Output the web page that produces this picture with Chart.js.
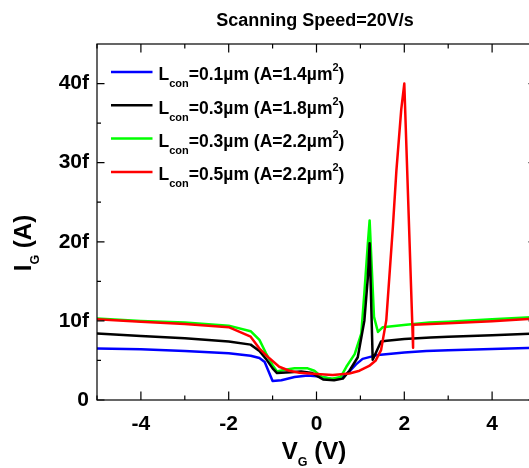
<!DOCTYPE html>
<html>
<head>
<meta charset="utf-8" />
<title>I_G vs V_G</title>
<script src="https://cdn.jsdelivr.net/npm/chart.js@4.4.0/dist/chart.umd.min.js"></script>
<style>
body {
	margin: 0;
	overflow: hidden;
	background: #fff;
}
canvas {
	display: block;
}
</style>
</head>
<body>
<canvas id="chart" width="545" height="468"></canvas>

<script>
// gate voltage (V) / gate current (fA)
const blueV = [-5, -4, -3, -2, -1.5, -1.3, -1.18, -1.0, -0.8, -0.5, -0.2, 0, 0.2, 0.4, 0.6, 0.75, 0.9, 1.05, 1.4, 2, 2.5, 3, 4, 5];
const blueI = [6.5, 6.4, 6.2, 5.9, 5.6, 5.3, 4.8, 2.4, 2.5, 2.9, 3.1, 3.0, 2.8, 2.6, 2.9, 3.6, 4.5, 5.2, 5.7, 6.0, 6.2, 6.3, 6.45, 6.6];

const blackV = [-5, -4, -3, -2, -1.5, -1.3, -1.15, -1.0, -0.9, -0.6, -0.35, -0.1, 0.15, 0.4, 0.6, 0.75, 0.94, 1.09, 1.17, 1.21, 1.28, 1.47, 1.6, 2, 2.6, 3, 4, 5];
const blackI = [8.4, 8.1, 7.8, 7.4, 7.0, 6.2, 5.2, 4.0, 3.4, 3.5, 3.6, 3.4, 2.6, 2.5, 2.7, 3.7, 5.4, 10.0, 15.5, 19.8, 5.1, 7.4, 7.5, 7.7, 7.9, 8.0, 8.2, 8.4];

const greenV = [-5, -4, -3, -2, -1.5, -1.3, -1.15, -1.0, -0.9, -0.75, -0.5, -0.2, -0.05, 0.12, 0.35, 0.55, 0.68, 0.87, 1.02, 1.09, 1.17, 1.21, 1.31, 1.4, 1.51, 2.04, 2.57, 3, 4, 5];
const greenI = [10.3, 10.0, 9.8, 9.4, 8.7, 7.6, 5.9, 4.4, 3.6, 3.8, 4.0, 4.0, 3.7, 2.9, 2.7, 2.9, 4.2, 5.8, 8.4, 13.5, 19.8, 22.7, 10.5, 8.6, 9.2, 9.5, 9.8, 9.9, 10.2, 10.5];

const redV = [-5, -4, -3, -2, -1.5, -1.3, -1.08, -0.85, -0.62, -0.39, 0, 0.37, 0.75, 0.98, 1.2, 1.35, 1.47, 1.59, 1.66, 1.74, 1.82, 1.93, 2.0, 2.2, 2.2, 2.6, 3, 4, 5];
const redI = [10.2, 9.9, 9.6, 9.2, 8.0, 6.5, 5.3, 4.2, 3.7, 3.45, 3.3, 3.15, 3.35, 3.7, 4.3, 5.0, 6.3, 10.1, 15.6, 21.9, 29.0, 36.7, 40.0, 6.6, 9.5, 9.6, 9.7, 9.95, 10.3];

const lcon = ['0.1', '0.3', '0.3', '0.5'];
const area = ['1.4', '1.8', '2.2', '2.2'];
const colors = ['#0000ff', '#000000', '#00ff00', '#ff0000'];

const xTicks = [-4, -2, 0, 2, 4];
const xMinor = [-5, -3, -1, 1, 3, 5];
const yTicks = [0, 10, 20, 30, 40];
const yTickLabels = ['0', '10f', '20f', '30f', '40f'];
const yMinor = [5, 15, 25, 35];

const FONT = 'Liberation Sans, Arial, sans-serif';

const pts = (xs, ys) => xs.map((x, i) => ({x: x, y: ys[i]}));

// draw text made of pieces with their own size and baseline shift
function richWidth(ctx, parts) {
	let w = 0;
	for (const p of parts) {
		ctx.font = `bold ${p.size}px ${FONT}`;
		w += ctx.measureText(p.t).width;
	}
	return w;
}
function drawRich(ctx, x, y, parts) {
	for (const p of parts) {
		ctx.font = `bold ${p.size}px ${FONT}`;
		ctx.fillText(p.t, x, y + (p.dy || 0));
		x += ctx.measureText(p.t).width;
	}
}

const framePlugin = {
	id: 'frame',
	afterDatasetsDraw(chart) {
		const {ctx, chartArea: a, scales: {x, y}} = chart;
		ctx.save();
		ctx.strokeStyle = '#000';
		ctx.lineWidth = 1.2;
		ctx.strokeRect(a.left, a.top, a.right - a.left, a.bottom - a.top);
		ctx.beginPath();
		const tick = (vals, len) => {
			for (const v of vals) {
				const px = x.getPixelForValue(v);
				ctx.moveTo(px, a.bottom); ctx.lineTo(px, a.bottom - len);
				ctx.moveTo(px, a.top); ctx.lineTo(px, a.top + len);
			}
		};
		const ytick = (vals, len) => {
			for (const v of vals) {
				const py = y.getPixelForValue(v);
				ctx.moveTo(a.left, py); ctx.lineTo(a.left + len, py);
				ctx.moveTo(a.right, py); ctx.lineTo(a.right - len, py);
			}
		};
		tick(xTicks, 8.5);
		tick(xMinor, 4.5);
		ytick(yTicks, 7.5);
		ytick(yMinor, 4);
		ctx.stroke();
		ctx.restore();
	},
	afterDraw(chart) {
		const ctx = chart.ctx;
		ctx.save();
		ctx.fillStyle = '#000';
		ctx.textBaseline = 'alphabetic';
		ctx.textAlign = 'left';

		// title
		ctx.font = `bold 18px ${FONT}`;
		ctx.textAlign = 'center';
		ctx.fillText('Scanning Speed=20V/s', 315, 26);
		ctx.textAlign = 'left';

		// x axis title
		const xt = [{t: 'V', size: 24}, {t: 'G', size: 12.5, dy: 7}, {t: ' (V)', size: 24}];
		drawRich(ctx, 314 - richWidth(ctx, xt) / 2, 459, xt);

		// y axis title
		const yt = [{t: 'I', size: 24}, {t: 'G', size: 12.5, dy: 8}, {t: ' (A)', size: 24}];
		ctx.translate(31, 243);
		ctx.rotate(-Math.PI / 2);
		drawRich(ctx, -richWidth(ctx, yt) / 2, 0, yt);
		ctx.setTransform(1, 0, 0, 1, 0, 0);

		// legend
		for (let i = 0; i < colors.length; i++) {
			const ly = 72 + 33.3 * i;
			ctx.strokeStyle = colors[i];
			ctx.lineWidth = 2.5;
			ctx.beginPath();
			ctx.moveTo(111, ly);
			ctx.lineTo(152.5, ly);
			ctx.stroke();
			drawRich(ctx, 158.5, ly + 8.3, [
				{t: 'L', size: 17.5},
				{t: 'con', size: 11, dy: 7},
				{t: `=${lcon[i]}\u00b5m (A=${area[i]}\u00b5m`, size: 17.5},
				{t: '2', size: 11, dy: -9},
				{t: ')', size: 17.5},
			]);
		}
		ctx.restore();
	}
};

const line = (label, xs, ys, color, order) => ({
	label: label,
	data: pts(xs, ys),
	borderColor: color,
	backgroundColor: color,
	borderWidth: 2.5,
	pointRadius: 0,
	tension: 0,
	borderJoinStyle: 'round',
	borderCapStyle: 'round',
	order: order,
});

new Chart(document.getElementById('chart'), {
	type: 'line',
	data: {
		datasets: [
			line('Lcon=0.1um (A=1.4um2)', blueV, blueI, colors[0], 3),
			line('Lcon=0.3um (A=1.8um2)', blackV, blackI, colors[1], 1),
			line('Lcon=0.3um (A=2.2um2)', greenV, greenI, colors[2], 2),
			line('Lcon=0.5um (A=2.2um2)', redV, redI, colors[3], 0),
		]
	},
	options: {
		responsive: false,
		animation: false,
		devicePixelRatio: 1,
		layout: {
			padding: {top: 44, right: 9, left: 0, bottom: 0}
		},
		plugins: {
			legend: {display: false},
			title: {display: false},
			tooltip: {enabled: false},
		},
		scales: {
			x: {
				type: 'linear',
				min: -5,
				max: 5,
				grid: {display: false, drawTicks: false},
				border: {display: false},
				afterBuildTicks: s => { s.ticks = xTicks.map(v => ({value: v})); },
				afterFit: s => { s.height = 68; },
				ticks: {
					color: '#000',
					padding: 12,
					maxRotation: 0,
					font: {family: FONT, size: 21, weight: 'bold'},
					callback: v => `${v}`,
				},
			},
			y: {
				type: 'linear',
				min: 0,
				max: 45,
				grid: {display: false, drawTicks: false},
				border: {display: false},
				afterBuildTicks: s => { s.ticks = yTicks.map(v => ({value: v})); },
				afterFit: s => { s.width = 97; },
				ticks: {
					color: '#000',
					padding: 8,
					font: {family: FONT, size: 21, weight: 'bold'},
					callback: (v, i) => yTickLabels[i],
				},
			},
		},
	},
	plugins: [framePlugin],
});
</script>
</body>
</html>
